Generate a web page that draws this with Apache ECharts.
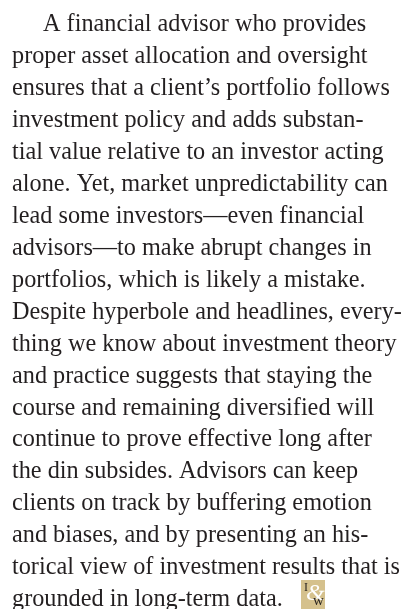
<!DOCTYPE html>
<html>
<head>
<meta charset="utf-8">
<script src="https://cdn.jsdelivr.net/npm/echarts@6/dist/echarts.min.js"></script>
<style>
    html, body { margin: 0; padding: 0; background: #ffffff; }
    #main { width: 408px; height: 609px; }
</style>
</head>
<body>
<div id="main"></div>
<script>
// paragraph lines, as set in the reference (ragged right, hyphenated)
let textLines = [
    "A financial advisor who provides",
    "proper asset allocation and oversight",
    "ensures that a client’s portfolio follows",
    "investment policy and adds substan-",
    "tial value relative to an investor acting",
    "alone. Yet, market unpredictability can",
    "lead some investors—even financial",
    "advisors—to make abrupt changes in",
    "portfolios, which is likely a mistake.",
    "Despite hyperbole and headlines, every-",
    "thing we know about investment theory",
    "and practice suggests that staying the",
    "course and remaining diversified will",
    "continue to prove effective long after",
    "the din subsides. Advisors can keep",
    "clients on track by buffering emotion",
    "and biases, and by presenting an his-",
    "torical view of investment results that is",
    "grounded in long-term data."
];
let indentedLines = [0];
let logoLetters = ["I", "&", "w"];

let fontFamily = "'Liberation Serif', 'Times New Roman', serif";
let textColor = '#231f20';
let left = 12;
let firstBaseline = 30;
let lineGap = 31.95;
let indent = 31;

// size the font so the longest line spans the same width as in the reference
let ctx = document.createElement('canvas').getContext('2d');
ctx.font = '20px ' + fontFamily;
let refWidth = ctx.measureText(textLines[17]).width;
let fontSize = 20 * 388 / refWidth;

let graphics = [];
textLines.forEach(function (line, i) {
    let baseline = firstBaseline + i * lineGap;
    graphics.push({
        type: 'text',
        x: left + (indentedLines.indexOf(i) >= 0 ? indent : 0),
        y: baseline - fontSize * 0.34 + 3,
        style: {
            text: line,
            fill: textColor,
            font: fontSize + 'px ' + fontFamily,
            verticalAlign: 'middle'
        }
    });
});

// end mark after the last line
graphics.push({
    type: 'group',
    x: 301,
    y: 580,
    children: [
        {type: 'rect', shape: {x: 0, y: 0, width: 24, height: 32}, style: {fill: '#d5c18d'}},
        {type: 'text', x: 3, y: 2, z: 2, style: {text: logoLetters[0], fill: '#2b2520', font: '12px ' + fontFamily}},
        {type: 'text', x: 5, y: 2, z: 1, style: {text: logoLetters[1], fill: '#ffffff', font: 'italic 24px ' + fontFamily}},
        {type: 'text', x: 12, y: 14, z: 2, style: {text: logoLetters[2], fill: '#2b2520', font: '15px ' + fontFamily}}
    ]
});

let chart = echarts.init(document.getElementById('main'), null, {renderer: 'canvas'});
chart.setOption({
    backgroundColor: '#ffffff',
    animation: false,
    graphic: graphics
});
</script>
</body>
</html>
